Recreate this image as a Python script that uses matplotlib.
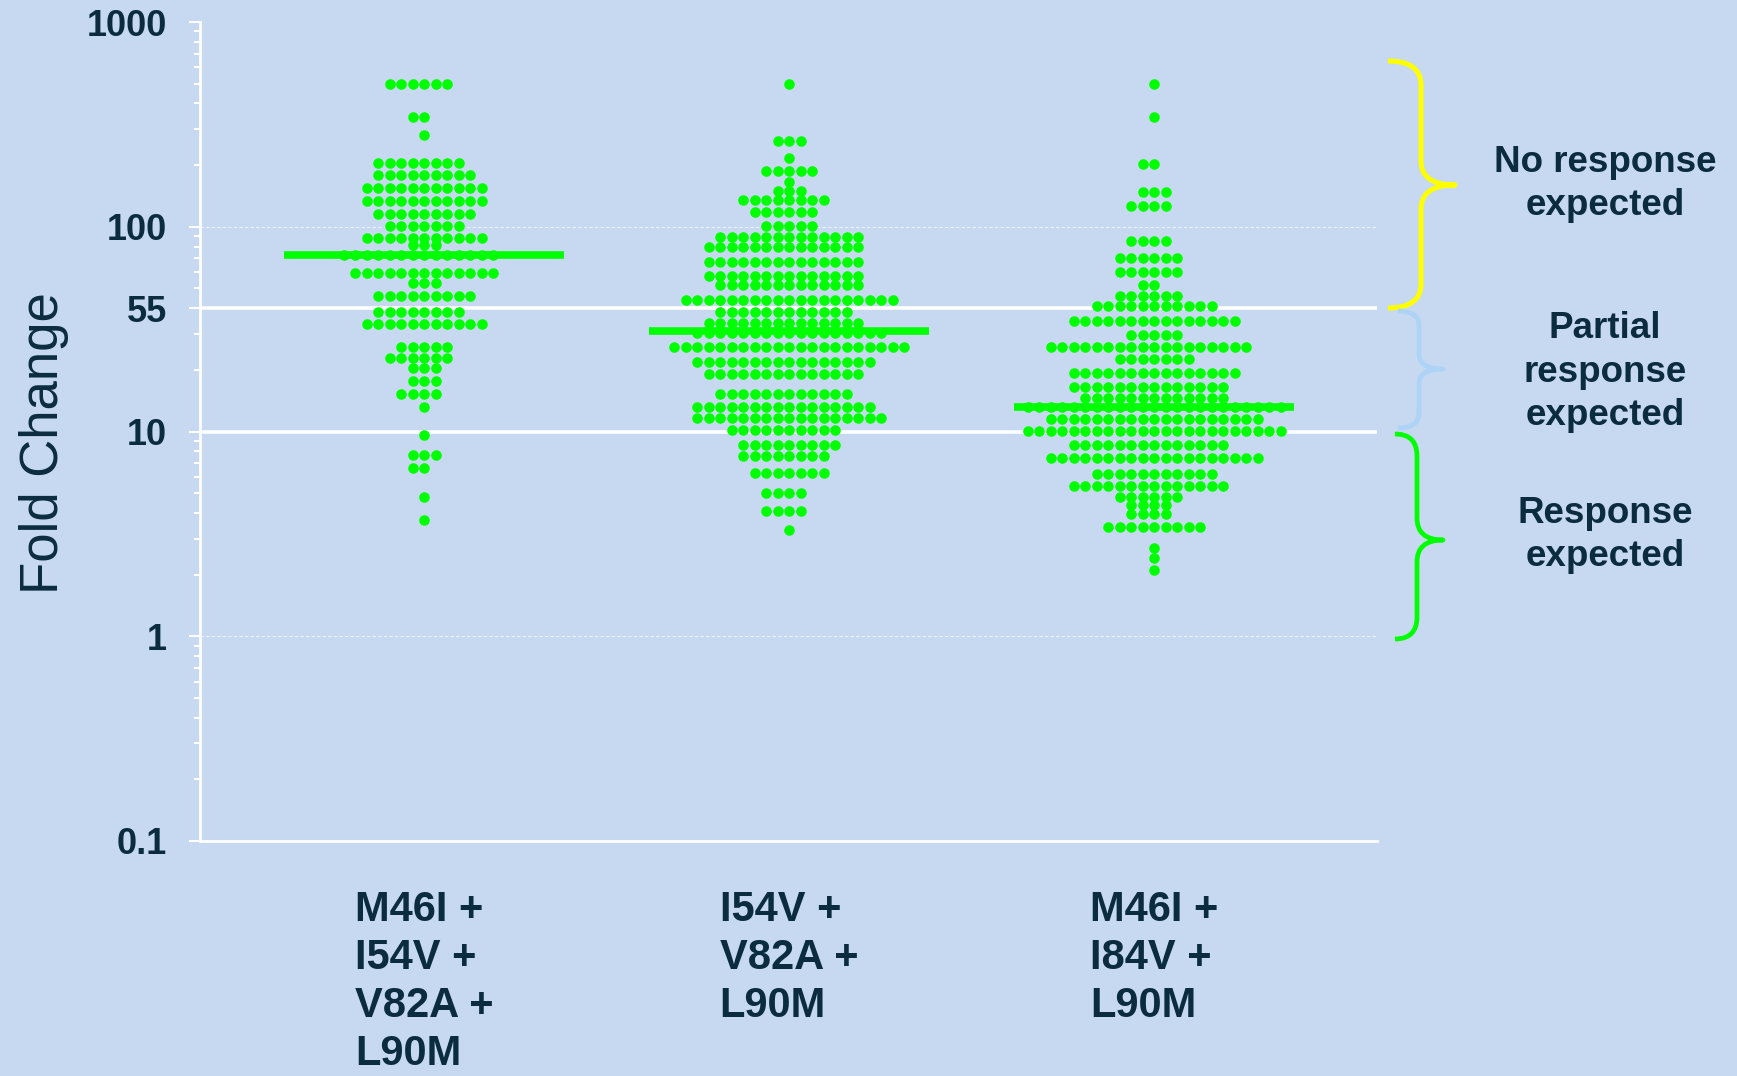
import numpy as np
import matplotlib
matplotlib.use("Agg")
import matplotlib.pyplot as plt
from matplotlib.path import Path
from matplotlib.patches import PathPatch
from matplotlib.ticker import LogLocator, NullFormatter

plt.rcParams['font.family'] = ['Liberation Sans', 'DejaVu Sans']

# ---------------------------------------------------------------- data
categories = ["M46I +\nI54V +\nV82A +\nL90M",
              "I54V +\nV82A +\nL90M",
              "M46I +\nI84V +\nL90M"]

# fold-change levels and the number of isolates found at each level
m1_levels = [500, 345, 280, 205, 178, 155, 134, 116, 101, 88.5, 81, 72.5, 59.5,
             53, 46, 38.5, 33.6, 26, 22.8, 20.4, 17.6, 15.2, 13.2, 9.6, 7.7,
             6.6, 4.8, 3.7]
m1_counts = [6, 2, 1, 8, 9, 11, 11, 9, 7, 11, 3, 14, 13,
             3, 9, 8, 11, 5, 6, 3, 3, 4, 1, 1, 3,
             2, 1, 1]

m2_levels = [500, 263, 217, 188, 166, 150, 135, 118, 101, 89.5, 80, 67, 57.5,
             52, 44, 38.5, 34, 30.4, 26, 21.8, 19, 15.3, 13.2, 11.6, 10.2,
             8.6, 7.6, 6.3, 5.0, 4.1, 3.3]
m2_counts = [1, 3, 1, 5, 1, 3, 8, 6, 5, 13, 14, 14, 14,
             13, 19, 12, 14, 17, 21, 16, 14, 12, 16, 17, 10,
             9, 8, 7, 4, 4, 1]

m3_levels = [500, 345, 203, 148, 126, 85, 70, 60, 52, 46, 41, 34.5, 29.6,
             25.8, 22.6, 19.4, 16.5, 14.6, 13.2, 11.5, 10.1, 8.6, 7.4, 6.2,
             5.4, 4.8, 4.4, 3.96, 3.4, 2.7, 2.4, 2.1]
m3_counts = [1, 1, 2, 3, 4, 4, 6, 6, 2, 6, 11, 15, 5,
             18, 7, 15, 14, 13, 23, 19, 23, 14, 19, 11,
             14, 6, 4, 4, 9, 1, 1, 1]

medians = [73, 30.8, 13.2]

ytick_values = [0.1, 1, 10, 40, 100, 1000]
ytick_labels = ["0.1", "1", "10", "55", "100", "1000"]
cutoff_lines = [10, 40]
grid_lines = [1, 100]

zones = ["No response\nexpected", "Partial\nresponse\nexpected", "Response\nexpected"]

# ---------------------------------------------------------------- style
BG = "#C6D9F1"
TEXT = "#0B2B3E"
DOT = "#00FF00"

W, H = 1737, 1076
AX_L, AX_R, AX_T, AX_B = 200, 1377, 22, 841
X_LO, X_HI = -0.614, 2.611
PX_PER_DECADE = (AX_B - AX_T) / 4.0
PX_PER_UNIT = (AX_R - AX_L) / (X_HI - X_LO)
SLOT_PX = 11.5
MIN_GAP_PX = 7.5


def swarm_offsets(levels, counts):
    """Grid beeswarm: each point takes the slot nearest the centre that is
    free of vertically overlapping points."""
    vals = np.sort(np.repeat(np.asarray(levels, float), counts))[::-1]
    ypx = np.log10(vals) * PX_PER_DECADE
    order = [0] + [s for i in range(1, 60) for s in (-i, i)]
    used = {}
    offs = []
    for y in ypx:
        for s in order:
            if all(abs(y - yy) >= MIN_GAP_PX for yy in used.get(s, [])):
                break
        used.setdefault(s, []).append(y)
        offs.append(s * SLOT_PX / PX_PER_UNIT)
    return vals, np.array(offs)


fig = plt.figure(figsize=(W / 100, H / 100), dpi=100, facecolor=BG)
ax = fig.add_axes([AX_L / W, 1 - AX_B / H, (AX_R - AX_L) / W, (AX_B - AX_T) / H])
ax.set_facecolor(BG)
ax.set_yscale('log')
ax.set_ylim(0.1, 1000)
ax.set_xlim(X_LO, X_HI)

for v in grid_lines:
    ax.axhline(v, color="#EEF3FA", lw=0.8, ls=(0, (3, 2)), zorder=1)
for v in cutoff_lines:
    ax.axhline(v, color="white", lw=2.6, zorder=1)

for i, (lv, ct) in enumerate([(m1_levels, m1_counts),
                              (m2_levels, m2_counts),
                              (m3_levels, m3_counts)]):
    vals, offs = swarm_offsets(lv, ct)
    ax.scatter(i + offs, vals, s=58, color=DOT, linewidths=0, zorder=3)
    ax.plot([i - 0.383, i + 0.383], [medians[i], medians[i]], color=DOT,
            lw=5.5, solid_capstyle='butt', zorder=4)

# axes
for side in ("top", "right"):
    ax.spines[side].set_visible(False)
for side in ("left", "bottom"):
    ax.spines[side].set_color("white")
    ax.spines[side].set_linewidth(2)

ax.set_yticks(ytick_values, ytick_labels, fontsize=26, fontweight='bold', color=TEXT)
ax.yaxis.set_minor_locator(LogLocator(base=10, subs=np.arange(2, 10), numticks=20))
ax.yaxis.set_minor_formatter(NullFormatter())
ax.tick_params(axis='y', which='major', direction='out', length=8, width=1.5,
               color='white', pad=16)
ax.tick_params(axis='y', which='minor', direction='out', length=4.3, width=1.5,
               color='white')

ax.set_xticks([0, 1, 2], categories, fontsize=30, fontweight='bold', color=TEXT,
              multialignment='left', linespacing=1.26)
ax.tick_params(axis='x', length=0, pad=35)

fig.text(44 / W, 1 - 443 / H, "Fold Change", rotation=90, ha='center', va='center',
         fontsize=38, color=TEXT)


# braces on the right
def brace(x0, x1, x2, ytop, ymid, ybot, r, color, lw):
    pts = [(x0, ytop), (x1, ytop), (x1, ytop + r),
           (x1, ymid - r), (x1, ymid), (x2, ymid),
           (x1, ymid), (x1, ymid + r),
           (x1, ybot - r), (x1, ybot), (x0, ybot)]
    codes = [Path.MOVETO, Path.CURVE3, Path.CURVE3,
             Path.LINETO, Path.CURVE3, Path.CURVE3,
             Path.CURVE3, Path.CURVE3,
             Path.LINETO, Path.CURVE3, Path.CURVE3]
    verts = [(x / W, 1 - y / H) for x, y in pts]
    fig.add_artist(PathPatch(Path(verts, codes), transform=fig.transFigure,
                             fill=False, edgecolor=color, lw=lw,
                             capstyle='butt', joinstyle='round'))


brace(1388, 1421, 1455, 61, 185, 308, 24, "#FFFF00", 3.6)
brace(1398, 1419, 1443, 311, 369, 428, 15, "#ADD3F7", 3.4)
brace(1395, 1417, 1443, 434, 540, 639, 22, "#00FF00", 3.4)

for txt, yc in zip(zones, [184, 372, 535]):
    fig.text(1605 / W, 1 - yc / H, txt, ha='center', va='center', fontsize=26.5,
             fontweight='bold', color=TEXT, linespacing=1.32)

fig.savefig("out.png", dpi=100, facecolor=BG)
